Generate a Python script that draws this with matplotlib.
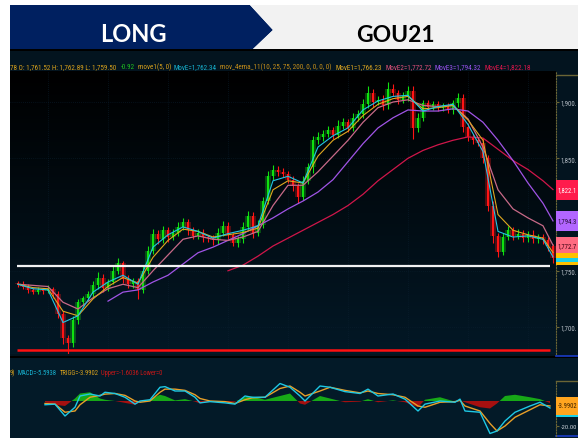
import numpy as np
import matplotlib
matplotlib.use("Agg")
import matplotlib.pyplot as plt
import matplotlib.transforms as mtransforms
from matplotlib import font_manager as fm
from matplotlib.colors import LinearSegmentedColormap
from matplotlib.patches import Polygon, Rectangle

# ---- data ----
# closes, one candle every 5 px
closes = [1738, 1736, 1733, 1731, 1733, 1732, 1734, 1729, 1712, 1690, 1686, 1706,
          1722, 1726, 1729, 1737, 1744, 1735, 1740, 1750, 1757, 1743, 1738, 1741,
          1733, 1750, 1768, 1783, 1778, 1786, 1780, 1784, 1789, 1793, 1786, 1781,
          1784, 1780, 1779, 1777, 1784, 1790, 1782, 1775, 1778, 1789, 1799, 1784,
          1791, 1812, 1834, 1840, 1838, 1836, 1831, 1825, 1816, 1830, 1842, 1866,
          1869, 1872, 1875, 1871, 1879, 1882, 1877, 1886, 1889, 1898, 1908, 1900,
          1902, 1897, 1912, 1908, 1902, 1905, 1910, 1877, 1886, 1899, 1896, 1898,
          1895, 1896, 1893, 1899, 1904, 1878, 1869, 1866, 1864, 1850, 1808, 1781,
          1767, 1780, 1786, 1781, 1783, 1779, 1782, 1778, 1780, 1777, 1772, 1761.5]
first_open = 1739
wick_up = [2, 3, 2, 2, 3, 2, 3, 2, 3, 2, 3, 4,
           3, 2, 3, 4, 5, 3, 3, 4, 4, 2, 3, 3,
           3, 4, 4, 4, 3, 4, 3, 3, 4, 4, 3, 3,
           3, 3, 2, 3, 4, 4, 3, 2, 3, 4, 4, 3,
           4, 4, 5, 4, 3, 3, 3, 3, 3, 4, 4, 4,
           4, 3, 4, 3, 5, 4, 3, 4, 4, 5, 6, 4,
           3, 4, 6, 4, 3, 4, 4, 4, 4, 3, 3, 3,
           3, 3, 3, 3, 4, 3, 3, 3, 3, 4, 3, 4,
           3, 4, 4, 3, 4, 3, 3, 4, 3, 3, 3, 2]
wick_dn = [2, 2, 3, 2, 2, 3, 2, 3, 4, 5, 10, 4,
           3, 3, 3, 2, 3, 4, 3, 2, 3, 4, 3, 3,
           8, 3, 3, 3, 4, 3, 4, 3, 3, 3, 4, 3,
           3, 4, 3, 4, 3, 3, 4, 3, 4, 3, 3, 5,
           3, 3, 3, 3, 4, 3, 3, 4, 6, 3, 3, 5,
           3, 4, 3, 4, 3, 3, 4, 3, 3, 3, 3, 4,
           3, 4, 3, 3, 4, 3, 4, 10, 4, 3, 3, 3,
           3, 3, 3, 4, 3, 5, 4, 3, 3, 4, 5, 6,
           5, 3, 3, 4, 3, 3, 3, 3, 3, 3, 4, 5]

# moving averages, sampled every 3rd candle
ma_idx = [0, 3, 6, 9, 12, 15, 18, 21, 24, 27, 30, 33, 36, 39, 42, 45, 48, 51, 54,
          57, 60, 63, 66, 69, 72, 75, 78, 81, 84, 87, 90, 93, 96, 99, 102, 105, 107]
move = [1738, 1734, 1733, 1704, 1710, 1731, 1740, 1746, 1738, 1771, 1782, 1789, 1785,
        1779, 1783, 1786, 1790, 1830, 1834, 1828, 1860, 1870, 1877, 1893, 1901, 1905,
        1906, 1892, 1896, 1898, 1880, 1856, 1785, 1780, 1781, 1778, 1762.34]
move1 = [1738, 1735, 1734, 1714, 1710, 1725, 1736, 1744, 1739, 1762, 1777, 1787, 1785,
         1780, 1782, 1784, 1788, 1822, 1830, 1828, 1852, 1866, 1874, 1888, 1898, 1903,
         1905, 1894, 1895, 1897, 1884, 1866, 1800, 1786, 1782, 1779, 1766.23]
move2 = [1738, 1737, 1736, 1722, 1716, 1726, 1734, 1738, 1735, 1750, 1764, 1778, 1781,
         1778, 1777, 1780, 1785, 1808, 1826, 1826, 1838, 1852, 1866, 1882, 1895, 1900,
         1902, 1897, 1896, 1897, 1885, 1860, 1822, 1805, 1797, 1790, 1772.72]
nan = np.nan
move3 = [nan, nan, nan, nan, nan, nan, 1723, 1731, 1733, 1740, 1746, 1756, 1766,
         1771, 1777, 1783, 1790, 1797, 1805, 1812, 1820, 1831, 1847, 1863, 1877, 1886,
         1893, 1892, 1892, 1894, 1892, 1882, 1866, 1848, 1828, 1810, 1794.32]
move4 = [nan, nan, nan, nan, nan, nan, nan, nan, nan, nan, nan, nan, nan,
         nan, 1750, 1755, 1763, 1772, 1779, 1786, 1793, 1800, 1808, 1818, 1830, 1840,
         1850, 1857, 1862, 1866, 1869, 1868, 1858, 1848, 1840, 1830, 1822.18]

support_level = 1754
stop_level = 1679.5

# MACD panel
macd_t = [5.4, 7.4, 9.4, 11.4, 12.4, 14.4, 16.4, 17.4, 19.4, 21.4, 23.4, 24.4, 26.4,
          28.4, 29.4, 31.4, 33.4, 35.4, 36.4, 38.4, 41.4, 43.4, 45.4, 46.8, 49.4, 52.4,
          54.4, 56.4, 57.4, 60.4, 62.4, 65.4, 68.4, 70.0, 72.0, 75.0, 77.4, 80.0, 81.4,
          84.4, 87.4, 88.4, 89.4, 92.4, 94.4, 95.8, 97.4, 99.4, 102.4, 104.4, 106.4]
macd = [-3, -2.5, -12, -5, 4, 5.6, 4, 7, 6, 3, -2.5, 0, 1, 11, 11.5, 8, 8, 3, -1.5,
        -0.5, -1.5, -2.5, 4, 3, 3, 14, 11, 4, 0, 12, 11, 7.5, 6, 9.5, 4, 5.6, 1.5, -8,
        -2.5, 0, -1, 1.5, -8, -9, -26, -24, -16, -9, -4, -1, -5.5938]
trigg = [-2, -2.5, -9, -8, -3, 3, 4.5, 5.5, 6, 4.5, 0, -1, 0, 7, 9.5, 9.5, 8.5, 5, 2,
         0, -0.5, -2, 1, 2.5, 3, 10, 12, 7, 4, 8, 11, 8.5, 6.5, 8, 6, 5, 3, -4, -5, -1,
         -0.5, 0.5, -4, -8, -18, -24, -20, -13, -7, -3, -3.9902]
hist = [-1, -3, -4, 2, 6, 7, 2, 1, 0, -1.5, -3, -1, 1, 5, 4, 0.5, 1.5, -0.5, -2, -0.5,
        -1, -0.5, 3, 3.5, 1, 4, 6, -2, -3, 4, 2, -1, -0.5, 1.5, -1, 0.5, -1, -5, 1, 3,
        -0.5, 0.5, -1, -5, -6, -2, 4, 5, 3, 1.5, -1.6]

price_ticks = [1700, 1750, 1850, 1900]
price_tick_labels = ["1,700.", "1,750.", "1,850.", "1,900."]


# ---- fonts ----
def have(name):
    try:
        fm.findfont(fm.FontProperties(family=name), fallback_to_default=False)
        return True
    except ValueError:
        return False


narrow = next((f for f in ["Liberation Sans Narrow", "DejaVu Sans Condensed",
                           "Roboto Condensed", "Roboto"] if have(f)), "DejaVu Sans")
fam = [narrow, "DejaVu Sans"]

W, H = 578, 439
fig = plt.figure(figsize=(W / 100, H / 100), dpi=100)
fig.patch.set_facecolor("white")
renderer = fig.canvas.get_renderer()

bg = fig.add_axes([0, 0, 1, 1])
bg.set_xlim(0, W)
bg.set_ylim(H, 0)
bg.axis("off")


def frac(x0, y0, x1, y1):
    return [x0 / W, 1 - y1 / H, (x1 - x0) / W, (y1 - y0) / H]


def chain(parts, x, y, width, size=6.0, gap=0.5):
    # colored segments side by side, scaled to span the given pixel width
    texts = [bg.text(0, y, s, color=c, fontsize=size, family=fam, va="baseline")
             for s, c in parts]
    ws = [t.get_window_extent(renderer).width for t in texts]
    k = width / (sum(ws) + gap * size * (len(ws) - 1))
    for t, w in zip(texts, ws):
        t.set_fontsize(size * k)
        t.set_x(x)
        x += w * k + gap * size * k


def fit_right(t, limit=W - 0.5):
    # shrink a right-edge label until it stays inside the picture
    for _ in range(30):
        bb = t.get_window_extent(renderer)
        if bb.x1 <= limit:
            break
        t.set_fontsize(t.get_fontsize() * 0.96)


def tag(axis, val, label, fc, tc, half_px, px_per_unit, z):
    # colored value box sitting on the right price scale
    tr = mtransforms.blended_transform_factory(axis.transAxes, axis.transData)
    hh = half_px / px_per_unit
    axis.add_patch(Rectangle((1.0, val - hh), 0.06, 2 * hh, transform=tr, fc=fc,
                             ec="none", clip_on=False, zorder=z))
    if label:
        t = axis.annotate(label, xy=(1, val), xycoords=tr, xytext=(1.3, 0),
                          textcoords="offset points", va="center", ha="left",
                          fontsize=6.5, family=fam, color=tc,
                          annotation_clip=False, zorder=z + 0.5)
        fit_right(t)


# header banner
bg.add_patch(Polygon([(10, 6), (250, 6), (273, 31), (253, 50), (10, 50)],
                     closed=True, fc="#002060", ec="none"))
bg.add_patch(Polygon([(250, 6), (W, 6), (W, 50), (253, 50), (273, 31)],
                     closed=True, fc="#f2f2f2", ec="none"))
bg.text(133, 42, "LONG", color="white", fontsize=17, fontweight="bold",
        family=["Lato", "DejaVu Sans"], ha="center", va="baseline")
bg.text(395, 42, "GOU21", color="black", fontsize=16.5, fontweight="bold",
        family=["Lato", "DejaVu Sans"], ha="center", va="baseline")

# dark chart area
bg.add_patch(Rectangle((10, 50), W - 10, H - 50, fc="#03141f", ec="none"))
bg.add_patch(Rectangle((10, 50), W - 10, 1.5, fc="#000000", ec="none"))
bg.add_patch(Rectangle((10, 357), W - 10, 2, fc="#000000", ec="none"))
bg.add_patch(Rectangle((10, 359), W - 10, H - 359, fc="#031a28", ec="none"))

# info lines
chain([("78 O: 1,761.52 H: 1,762.89 L: 1,759.50", "#d9a21c"),
       ("-0.92", "#1fc21f"),
       ("move1(5, 0)", "#d9a21c"),
       ("MovE=1,762.34", "#17b4d2"),
       ("mov_4ema_11(10, 25, 75, 200, 0, 0, 0, 0)", "#c8901a"),
       ("MovE1=1,766.23", "#e0a820"),
       ("MovE2=1,772.72", "#e0507a"),
       ("MovE3=1,794.32", "#9a52f0"),
       ("MovE4=1,822.18", "#e0164c")], 10, 69, 522)
chain([("9)", "#d9a21c"),
       ("MACD=-5.5938", "#17b4d2"),
       ("TRIGG=-3.9902", "#d9a21c"),
       ("Upper=-1.6036 Lower=0", "#c81818")], 10, 375, 153)

# ---- price panel ----
ax = fig.add_axes(frac(10, 72, 556, 355))
x0, x1 = -1.6, 107.6
y0, y1 = 1676, 1927.6
ppu = 283 / (y1 - y0)
grad = LinearSegmentedColormap.from_list("g", ["#031826", "#000000"])
ax.imshow(np.linspace(0, 1, 256).reshape(-1, 1), cmap=grad, aspect="auto",
          extent=[x0, x1, y0, y1], origin="lower", zorder=0)

c = np.array(closes, dtype=float)
o = np.r_[first_open, c[:-1]]
hi = np.maximum(o, c) + np.array(wick_up)
lo = np.minimum(o, c) - np.array(wick_dn)
xs = np.arange(len(c))
up = c >= o
cols = np.where(up, "#10e010", "#ff1414")
body = np.maximum(np.abs(c - o), 0.8)
bot = np.minimum(o, c)
ax.bar(xs, body, bottom=bot, width=1.1, color=cols, alpha=0.3, zorder=2)
ax.vlines(xs, lo, hi, colors=cols, lw=0.8, zorder=3)
ax.bar(xs, body, bottom=bot, width=0.55, color=cols, zorder=3)

ax.plot(ma_idx, move4, color="#d0164a", lw=0.9, zorder=4)
ax.plot(ma_idx, move3, color="#a054e6", lw=0.9, zorder=4)
ax.plot(ma_idx, move2, color="#c86a88", lw=0.9, zorder=4)
ax.plot(ma_idx, move1, color="#e0a820", lw=0.8, zorder=5)
ax.plot(ma_idx, move, color="#22c6e4", lw=0.8, zorder=5)

ax.hlines(support_level, -0.2, 106.4, color="#f2f2f2", lw=1.6, zorder=6)
ax.hlines(stop_level, -0.2, 106.4, color="#ff1010", lw=1.8, zorder=6)

ax.set_xlim(x0, x1)
ax.set_ylim(y0, y1)
ax.set_facecolor("none")
for side in ["top", "bottom", "left"]:
    ax.spines[side].set_visible(False)
ax.spines["right"].set_color("#6b6535")
ax.spines["right"].set_linestyle((0, (1, 1.5)))
ax.yaxis.tick_right()
ax.set_yticks(price_ticks)
ax.set_yticklabels(price_tick_labels, family=fam)
ax.tick_params(axis="y", colors="#6b6535", labelcolor="#b8c0c8", labelsize=7,
               length=2, pad=1.5)
ax.set_xticks(np.arange(6, 108, 12))
ax.tick_params(axis="x", length=0, labelbottom=False)
ax.grid(True, color="#0b2030", lw=0.5, ls=(0, (1, 2)), zorder=1)
for t in ax.get_yticklabels():
    fit_right(t)

# value boxes on the price scale
tag(ax, 1766.23, None, "#ffc000", None, 9, ppu, 7)
tag(ax, 1759.5, None, "#1ad1e8", None, 2, ppu, 8)
tag(ax, 1756.4, None, "#ffc000", None, 1.5, ppu, 9)
tag(ax, 1772.72, "1,772.7", "#ff6b81", "#3a0010", 8, ppu, 10)
tag(ax, 1794.32, "1,794.3", "#b266ff", "#200830", 10, ppu, 10)
tag(ax, 1822.18, "1,822.1", "#ff1c4c", "#ffffff", 10, ppu, 10)

bg.plot([556, W], [76, 76], color="#6b6535", lw=1)
bg.plot([556, W], [357, 357], color="#1a3cc8", lw=1.2)

# ---- MACD panel ----
mx = fig.add_axes(frac(10, 382, 556, 437))
mx.set_facecolor("none")
h = np.array(hist)
mx.fill_between(macd_t, h, 0, where=h >= 0, interpolate=True, color="#17a817",
                lw=0, zorder=2)
mx.fill_between(macd_t, h, 0, where=h <= 0, interpolate=True, color="#a51010",
                lw=0, zorder=2)
mx.plot(macd_t, trigg, color="#e8a028", lw=1.0, zorder=3)
mx.plot(macd_t, macd, color="#1ec8e4", lw=1.0, zorder=4)
mx.set_xlim(x0, x1)
mx.set_ylim(-28, 16)
for side in ["top", "bottom", "left"]:
    mx.spines[side].set_visible(False)
mx.spines["right"].set_color("#6b6535")
mx.spines["right"].set_linestyle((0, (1, 1.5)))
mx.yaxis.tick_right()
mx.set_yticks([-20])
mx.set_yticklabels(["-20.00"], family=fam)
mx.tick_params(axis="y", colors="#6b6535", labelcolor="#c8d0d8", labelsize=7,
               length=2, pad=1.5)
mx.set_xticks([])
for t in mx.get_yticklabels():
    fit_right(t)
tag(mx, -5.5938, None, "#1ad1e8", None, 9, 1.25, 7)
tag(mx, -3.9902, "-3.9902", "#ffa51f", "#3a2000", 9, 1.25, 8)
bg.plot([556, W], [382, 382], color="#6b6535", lw=1)
bg.plot([556, W], [437.5, 437.5], color="#1a3cc8", lw=1.2)

fig.savefig("out.png", dpi=100, facecolor=fig.get_facecolor())
